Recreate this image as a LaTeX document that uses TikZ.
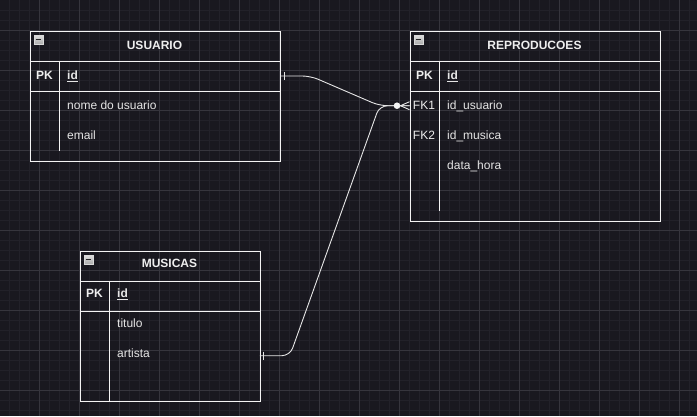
\documentclass[tikz,border=0pt]{standalone}
\usepackage{fontspec}
\setmainfont{Liberation Sans}
\usepackage{tikz}
\usetikzlibrary{calc}
\definecolor{canvas}{HTML}{19181F}
\definecolor{minorgrid}{HTML}{222129}
\definecolor{majorgrid}{HTML}{36353D}
\definecolor{inktext}{HTML}{EEEEEE}
\definecolor{inkline}{HTML}{F4F4F4}

\begin{document}
\begin{tikzpicture}[x=1pt, y=-1pt, font=\fontsize{12}{14}\selectfont,
 table node/.style={draw=inkline, line width=1pt, anchor=north west, inner sep=0pt},
 row node/.style={inner sep=0pt, minimum height=30, anchor=north west},
 table line/.style={draw=inkline, line width=1pt},
 title node/.style={text=inktext, font=\fontsize{12}{14}\selectfont\bfseries, inner sep=0pt, text height=8.6pt, text depth=0pt},
 key node/.style={text=inktext, inner sep=0pt, text height=8.6pt, text depth=0pt},
 field node/.style={text=inktext!92!gray, anchor=west, inner sep=0pt, text height=8.6pt, text depth=0pt},
 icon node/.style={draw=gray!30, line width=0.6pt, top color=gray!25, bottom color=gray!65, minimum size=9, inner sep=0pt,
   path picture={\draw[black!85, line width=1.3pt] ([xshift=-2.8pt]path picture bounding box.center) -- ([xshift=2.8pt]path picture bounding box.center);}},
 rel line/.style={draw=inkline!88!gray, line width=0.9pt, rounded corners=8pt},
 rel mark/.style={draw=inkline!88!gray, line width=0.9pt}]
\useasboundingbox (0,0) rectangle (697,416);
\fill[canvas] (0,0) rectangle (697,416);
% grid
\foreach \gx in {9.5,19.5,...,689.5} \draw[minorgrid, line width=0.7pt] (\gx,0) -- (\gx,416);
\foreach \gy in {10,20,...,410} \draw[minorgrid, line width=0.7pt] (0,\gy) -- (697,\gy);
\foreach \gx in {39.5,79.5,...,679.5} \draw[majorgrid, line width=0.8pt] (\gx,0) -- (\gx,416);
\foreach \gy in {30,70,...,390} \draw[majorgrid, line width=0.8pt] (0,\gy) -- (697,\gy);

% USUARIO
\node[table node, minimum width=250, minimum height=130] (usuario) at (29.5,30.5) {};
\node[row node, draw=inkline, line width=1pt, minimum width=250] (usuario-id) at (29.5,60.5) {};
\draw[table line] (59.5,60.5) -- (59.5,150.5);
\node[icon node] (usuario-icon) at (38.5,39.5) {};
\node[title node] (usuario-title) at (154.5,45.5) {USUARIO};
\node[key node] (usuario-pk) at (44.5,75.5) {\bfseries PK};
\node[field node] (usuario-idtext) at (67,75.5) {\bfseries\underline{id}};
\node[field node] (usuario-nome) at (67,105.5) {nome do usuario};
\node[field node] (usuario-email) at (67,135.5) {email};

% REPRODUCOES
\node[table node, minimum width=250, minimum height=190] (rep) at (409.5,30.5) {};
\node[row node, draw=inkline, line width=1pt, minimum width=250] (rep-id) at (409.5,60.5) {};
\node[row node, minimum width=250] (rep-fk1) at (409.5,90.5) {};
\draw[table line] (439.5,60.5) -- (439.5,210.5);
\node[icon node] (rep-icon) at (418.5,39.5) {};
\node[title node] (rep-title) at (534.5,45.5) {REPRODUCOES};
\node[key node] (rep-pk) at (424.5,75.5) {\bfseries PK};
\node[field node] (rep-idtext) at (447,75.5) {\bfseries\underline{id}};
\node[key node] (rep-fk1key) at (424,105.5) {FK1};
\node[field node] (rep-usuario) at (447,105.5) {id\_usuario};
\node[key node] (rep-fk2key) at (424,135.5) {FK2};
\node[field node] (rep-musica) at (447,135.5) {id\_musica};
\node[field node] (rep-data) at (447,165.5) {data\_hora};

% MUSICAS
\node[table node, minimum width=180, minimum height=150] (musicas) at (79.5,250.5) {};
\node[row node, draw=inkline, line width=1pt, minimum width=180] (mus-id) at (79.5,280.5) {};
\node[row node, minimum width=180] (mus-artista) at (79.5,340.5) {};
\draw[table line] (109.5,280.5) -- (109.5,400.5);
\node[icon node] (mus-icon) at (88.5,259.5) {};
\node[title node] (mus-title) at (169.5,263.5) {MUSICAS};
\node[key node] (mus-pk) at (94.5,293.5) {\bfseries PK};
\node[field node] (mus-idtext) at (117,293.5) {\bfseries\underline{id}};
\node[field node] (mus-titulo) at (117,323.5) {titulo};
\node[field node] (mus-artistatext) at (117,353.5) {artista};

% relations
\draw[rel line] (usuario-id.east) -- ($(usuario-id.east)+(30,0)$) -- ($(rep-fk1.west)+(-30,0)$) -- (rep-fk1.west);
\draw[rel line] (mus-artista.east) -- ($(mus-artista.east)+(30,0)$) -- ($(rep-fk1.west)+(-30,0)$) -- (rep-fk1.west);
\draw[rel mark] ($(usuario-id.east)+(4,-4)$) -- ($(usuario-id.east)+(4,4)$);
\draw[rel mark] ($(mus-artista.east)+(4,-4)$) -- ($(mus-artista.east)+(4,4)$);
\fill[inkline] ($(rep-fk1.west)+(-12.5,0)$) circle (3.3);
\draw[rel mark] ($(rep-fk1.west)+(0,-4)$) -- ($(rep-fk1.west)+(-9,0)$) -- ($(rep-fk1.west)+(0,4)$);
\end{tikzpicture}
\end{document}
